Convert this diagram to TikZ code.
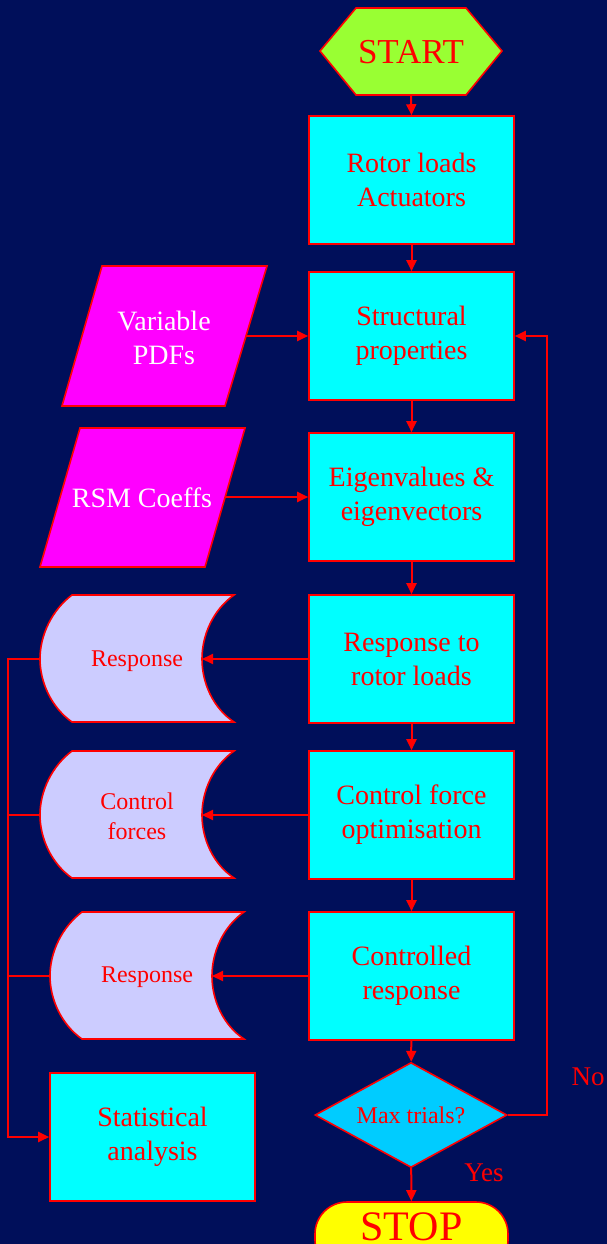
\documentclass[tikz,border=0pt]{standalone}
\usepackage{fontspec}
\setmainfont{Liberation Serif}
\usetikzlibrary{arrows.meta,shapes.geometric}
\definecolor{bg}{RGB}{0,15,90}
\definecolor{procfill}{RGB}{0,255,255}
\definecolor{datafill}{RGB}{255,0,255}
\definecolor{storefill}{RGB}{204,204,255}
\definecolor{startfill}{RGB}{153,255,51}
\definecolor{decfill}{RGB}{0,204,255}
\definecolor{stopfill}{RGB}{255,255,0}
\definecolor{ink}{RGB}{255,0,0}
\tikzset{
  proc/.style={draw=ink, line width=1.6pt, fill=procfill, minimum width=205pt,
    minimum height=128pt, inner sep=0pt, align=center, text=ink,
    font=\fontsize{28}{34}\selectfont},
  outline/.style={draw=ink, line width=1.6pt},
  lbl/.style={inner sep=0pt, align=center, text=ink, font=\fontsize{28}{34}\selectfont},
  smalllbl/.style={inner sep=0pt, align=center, text=ink, font=\fontsize{24}{30}\selectfont},
  arr/.style={draw=ink, line width=2pt, -{Triangle[length=11pt,width=10pt]}},
  wire/.style={draw=ink, line width=2pt},
}
% stored-data symbol: convex left side, concave right side
\newcommand\storeshape[2]{%
  \draw[outline, fill=storefill, shift={(#1,#2)}]
    (32,0) -- (194,0) .. controls (173,15) and (162,40) .. (162,64)
    .. controls (162,88) and (173,113) .. (194,127) -- (32,127)
    .. controls (12,113) and (0,88) .. (0,64)
    .. controls (0,40) and (12,15) .. (32,0) -- cycle;}
\begin{document}
\begin{tikzpicture}[x=1pt,y=-1pt]
\fill[bg] (0,0) rectangle (607,1244);
\useasboundingbox (0,0) rectangle (607,1244);

% terminal: start
\draw[outline, fill=startfill] (356,8) -- (466,8) -- (502,51) -- (466,95)
  -- (356,95) -- (320,51) -- cycle;
\node[inner sep=0pt, text=ink, font=\fontsize{35}{40}\selectfont] (start) at (411,52) {START};
\coordinate (startb) at (411,95);

% main column
\node[proc] (rotor)  at (411.5,180) {Rotor loads\\Actuators};
\node[proc] (struct) at (411.5,336) {Structural\\properties};
\node[proc] (eigen)  at (411.5,497) {Eigenvalues \&\\eigenvectors};
\node[proc] (resp)   at (411.5,659) {Response to\\rotor loads};
\node[proc] (ctrl)   at (411.5,815) {Control force\\optimisation};
\node[proc] (cresp)  at (411.5,976) {Controlled\\response};

% decision
\node[draw=ink, line width=1.6pt, fill=decfill, shape=diamond, minimum width=192pt,
  minimum height=105pt, inner sep=0pt, aspect=1.83, text=ink,
  font=\fontsize{24}{30}\selectfont] (dec) at (411,1115) {Max trials?};

% terminal: stop
\node[draw=ink, line width=1.6pt, fill=stopfill, minimum width=193pt, minimum height=70pt,
  rounded corners=32pt, inner sep=0pt] (stop) at (411.5,1237) {};
\node[inner sep=0pt, text=ink, font=\fontsize{42}{48}\selectfont, anchor=base]
  (stoptext) at (411.5,1240) {STOP};

% input data
\draw[outline, fill=datafill] (102,266) -- (267,266) -- (225,406) -- (62,406) -- cycle;
\node[lbl, text=white] (pdf) at (164,338) {Variable\\PDFs};
\coordinate (pdfout) at (246,336);
\draw[outline, fill=datafill] (80,428) -- (245,428) -- (205,567) -- (40,567) -- cycle;
\node[lbl, text=white] (rsm) at (142,498) {RSM Coeffs};
\coordinate (rsmout) at (225,497);

% stored results
\storeshape{40}{595}
\node[smalllbl] (st1) at (137,661) {Response};
\coordinate (st1in) at (202,659);
\coordinate (st1out) at (40,659);
\storeshape{40}{751}
\node[smalllbl] (st2) at (137,816) {Control\\forces};
\coordinate (st2in) at (202,815);
\coordinate (st2out) at (40,815);
\storeshape{50}{912}
\node[smalllbl] (st3) at (147,977) {Response};
\coordinate (st3in) at (212,976);
\coordinate (st3out) at (50,976);

\node[proc] (stat) at (152.5,1137) {Statistical\\analysis};

% bus on the left
\coordinate (bus1) at (8,659);
\coordinate (bus2) at (8,815);
\coordinate (bus3) at (8,976);
\coordinate (bus4) at (8,1137);

% flow connectors
\draw[arr] (startb) -- (rotor.north);
\draw[arr] (rotor) -- (struct);
\draw[arr] (struct) -- (eigen);
\draw[arr] (eigen) -- (resp);
\draw[arr] (resp) -- (ctrl);
\draw[arr] (ctrl) -- (cresp);
\draw[arr] (cresp) -- (dec);
\draw[arr] (dec) -- (stop);
\draw[arr] (pdfout) -- (struct.west);
\draw[arr] (rsmout) -- (eigen.west);
\draw[arr] (resp.west) -- (st1in);
\draw[arr] (ctrl.west) -- (st2in);
\draw[arr] (cresp.west) -- (st3in);
\draw[arr] (st1out) -- (bus1) -- (bus4) -- (stat.west);
\draw[wire] (st2out) -- (bus2);
\draw[wire] (st3out) -- (bus3);
\draw[arr] (dec.east) -- ++(39,0) |- (struct.east);

\node[lbl, font=\fontsize{27}{32}\selectfont] (no) at (588,1077) {No};
\node[lbl, font=\fontsize{27}{32}\selectfont] (yes) at (484,1173) {Yes};
\end{tikzpicture}
\end{document}
